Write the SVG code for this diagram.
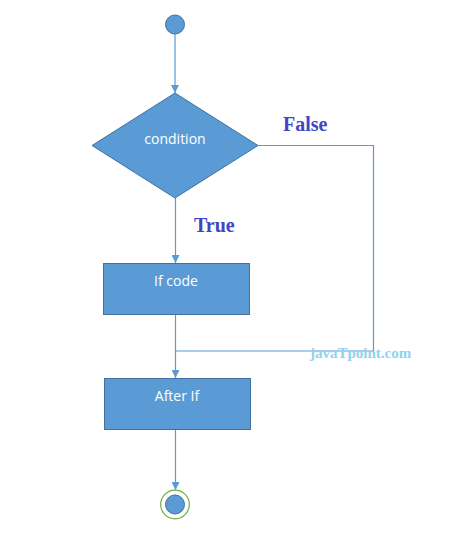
<svg xmlns="http://www.w3.org/2000/svg" width="457" height="542" viewBox="0 0 457 542">
<style>
.shape{fill:#5b9bd5;stroke:#41719c;stroke-width:1}
.lbl{font-family:"Open Sans","Liberation Sans",sans-serif;font-size:14px;fill:#ffffff;text-anchor:middle}
.conn{fill:none;stroke:#5b9bd5;stroke-width:1.2}
.edge{font-family:"Liberation Serif",serif;font-weight:bold;font-size:20px;fill:#4444c4}
.wm{font-family:"Liberation Serif",serif;font-weight:bold;font-size:15px;fill:#8fd3ef}
</style>
<defs>
<marker id="arr" viewBox="0 0 10 10" refX="10" refY="5" markerWidth="8" markerHeight="8" markerUnits="userSpaceOnUse" orient="auto">
<path d="M0,0 L10,5 L0,10 z" fill="#5b9bd5"/>
</marker>
</defs>
<rect width="457" height="542" fill="#ffffff"/>
<g id="connectors">
<line class="conn" x1="175" y1="34" x2="175" y2="93" marker-end="url(#arr)"/>
<line class="conn" x1="175.5" y1="198" x2="175.5" y2="263" marker-end="url(#arr)"/>
<line class="conn" x1="175.5" y1="314" x2="175.5" y2="378" marker-end="url(#arr)"/>
<line class="conn" x1="175.5" y1="429" x2="175.5" y2="490" marker-end="url(#arr)"/>
<polyline class="conn" points="258,145.5 373.5,145.5 373.5,351 176,351"/>
<text class="edge" x="283" y="131">False</text>
<text class="edge" x="194" y="232">True</text>
</g>
<g id="start">
<circle class="shape" cx="175" cy="24.5" r="9.5"/>
</g>
<g id="condition">
<polygon class="shape" points="175,93 258,145.5 175,198 92,145.5"/>
<text class="lbl" x="175" y="144">condition</text>
</g>
<g id="ifcode">
<rect class="shape" x="103.5" y="263.5" width="146" height="51"/>
<text class="lbl" x="176" y="286">If code</text>
</g>
<g id="afterif">
<rect class="shape" x="104.5" y="378.5" width="146" height="51"/>
<text class="lbl" x="177" y="401">After If</text>
</g>
<g id="end">
<circle cx="175" cy="504.5" r="14.3" fill="#ffffff" stroke="#70ad47" stroke-width="1.2"/>
<circle class="shape" cx="175" cy="504.5" r="9.5"/>
</g>
<text class="wm" x="310" y="357.5">javaTpoint.com</text>
</svg>
